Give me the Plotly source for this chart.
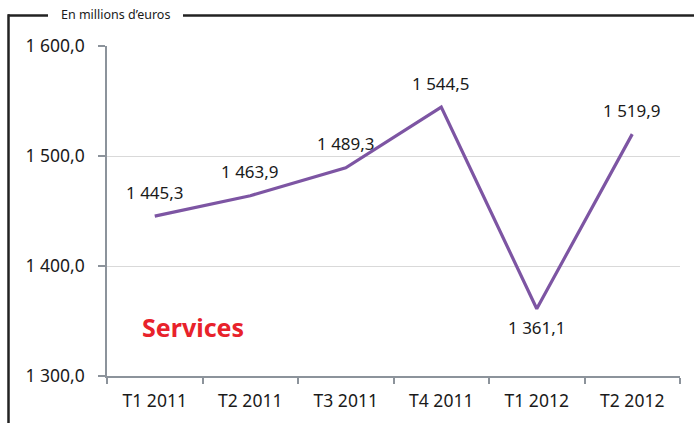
import plotly.graph_objects as go

categories = ["T1 2011", "T2 2011", "T3 2011", "T4 2011", "T1 2012", "T2 2012"]
values = [1445.3, 1463.9, 1489.3, 1544.5, 1361.1, 1519.9]
label_above = [True, True, True, True, False, True]
y_ticks = [1300, 1400, 1500, 1600]

W, H = 694, 423
L, R, T, B = 107, 14, 46, 47
pw, ph = W - L - R, H - T - B

def px_x(p):
    return (p - L) / pw

def px_y(p):
    return (H - B - p) / ph

def fmt(v):
    s = f"{v:,.1f}"
    return s.replace(",", " ").replace(".", ",")

fig = go.Figure()
fig.add_trace(go.Scatter(
    x=categories, y=values, mode="lines",
    line=dict(color="#7D55A3", width=3.2),
    hoverinfo="skip", showlegend=False,
))

for c, v, up in zip(categories, values, label_above):
    fig.add_annotation(
        x=c, y=v, text=fmt(v), showarrow=False,
        xanchor="center", yanchor="middle",
        yshift=24 if up else -19,
        font=dict(family="Noto Sans", size=17, color="#1a1a1a"),
    )

fig.add_annotation(
    x=px_x(193), y=px_y(327), xref="paper", yref="paper",
    xanchor="center", yanchor="middle",
    text="<b>Services</b>", showarrow=False,
    font=dict(family="Noto Sans", size=25, color="#E8222B"),
)

fig.add_annotation(
    x=px_x(115), y=px_y(15), xref="paper", yref="paper",
    xanchor="center", yanchor="middle",
    text="En millions d\u2019euros", showarrow=False,
    font=dict(family="Noto Sans", size=12.5, color="#1a1a1a"),
)

frame = dict(color="#222222", width=2.5)
fig.add_shape(type="line", xref="paper", yref="paper",
              x0=px_x(8), y0=px_y(15.5), x1=px_x(48), y1=px_y(15.5), line=frame)
fig.add_shape(type="line", xref="paper", yref="paper",
              x0=px_x(183), y0=px_y(15.5), x1=px_x(694), y1=px_y(15.5), line=frame)
fig.add_shape(type="line", xref="paper", yref="paper",
              x0=px_x(8.5), y0=px_y(14.3), x1=px_x(8.5), y1=px_y(423), line=frame)

fig.update_layout(
    width=W, height=H,
    margin=dict(l=L, r=R, t=T, b=B, pad=0),
    paper_bgcolor="white", plot_bgcolor="white",
    separators=", ",
    font=dict(family="Noto Sans", color="#1a1a1a"),
    showlegend=False,
)
fig.update_xaxes(
    type="category", range=[-0.5, 5.5],
    showline=True, linecolor="#8c939b", linewidth=1.5,
    ticks="outside", tickson="boundaries", ticklen=6, tickcolor="#8c939b", tickwidth=1.5,
    showgrid=False, tickfont=dict(size=17.5, color="#1a1a1a"),
    ticklabelstandoff=8,
)
fig.update_yaxes(
    range=[1300, 1600], tickvals=y_ticks, tickformat=",.1f",
    showline=True, linecolor="#8c939b", linewidth=1.5,
    ticks="outside", ticklen=7, tickcolor="#8c939b", tickwidth=1.5,
    showgrid=True, gridcolor="#d9d9d9", gridwidth=1,
    zeroline=False, tickfont=dict(size=17.5, color="#1a1a1a"),
    ticklabelstandoff=10,
)

fig.write_html("out.html")
